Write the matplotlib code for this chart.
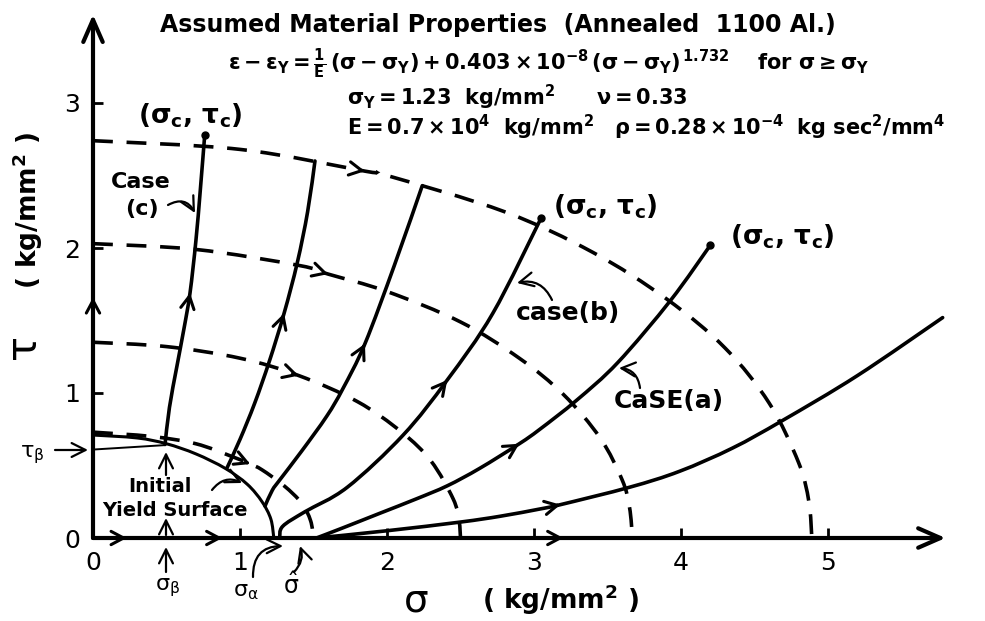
import numpy as np
import matplotlib
matplotlib.use("Agg")
import matplotlib.pyplot as plt
from matplotlib.path import Path
from matplotlib.patches import PathPatch

plt.rcParams['font.family'] = ['DejaVu Sans']
plt.rcParams['mathtext.fontset'] = 'dejavusans'
plt.rcParams['mathtext.default'] = 'regular'

# initial yield surface (sigma, tau) in kg/mm^2
yield_sig = [0.0, 0.3, 0.5, 0.7, 0.9, 1.05, 1.15, 1.21, 1.23]
yield_tau = [0.71, 0.69, 0.65, 0.58, 0.48, 0.37, 0.25, 0.13, 0.0]

# subsequent surfaces (dashed)
d1_sig = [0.0, 0.4, 0.7, 0.95, 1.07, 1.15, 1.3, 1.42, 1.48, 1.50]
d1_tau = [0.73, 0.70, 0.65, 0.56, 0.51, 0.47, 0.36, 0.24, 0.12, 0.0]
d2_sig = [0.0, 0.5, 1.0, 1.4, 1.8, 2.1, 2.3, 2.45, 2.49, 2.5]
d2_tau = [1.35, 1.32, 1.24, 1.12, 0.94, 0.73, 0.53, 0.27, 0.12, 0.0]
d3_sig = [0.0, 0.7, 1.4, 1.6, 2.0, 2.5, 2.9, 3.2, 3.45, 3.6, 3.65, 3.67]
d3_tau = [2.03, 1.99, 1.88, 1.82, 1.70, 1.49, 1.24, 0.99, 0.69, 0.40, 0.21, 0.0]
d4_sig = [0.0, 1.0, 1.85, 2.0, 2.8, 3.4, 3.9, 4.3, 4.6, 4.8, 4.87, 4.89]
d4_tau = [2.74, 2.68, 2.53, 2.50, 2.25, 1.97, 1.65, 1.31, 0.93, 0.52, 0.25, 0.0]

# loading paths (solid)
pc_sig = [0.49, 0.52, 0.57, 0.62, 0.66, 0.70, 0.73, 0.76]
pc_tau = [0.645, 0.90, 1.18, 1.45, 1.69, 2.05, 2.40, 2.78]
p2_sig = [0.91, 1.0, 1.1, 1.2, 1.30, 1.39, 1.46, 1.51]
p2_tau = [0.48, 0.68, 0.93, 1.22, 1.55, 1.90, 2.25, 2.60]
p3_sig = [1.17, 1.22, 1.27, 1.42, 1.59, 1.70, 1.85, 2.05, 2.24]
p3_tau = [0.22, 0.33, 0.40, 0.60, 0.84, 1.03, 1.34, 1.88, 2.43]
pb_sig = [1.27, 1.29, 1.44, 1.73, 2.11, 2.41, 2.72, 3.05]
pb_tau = [0.0, 0.08, 0.18, 0.35, 0.71, 1.09, 1.55, 2.21]
pa_sig = [1.52, 1.70, 1.95, 2.2, 2.41, 2.63, 2.90, 3.04, 3.29, 3.57, 3.93, 4.20]
pa_tau = [0.0, 0.07, 0.17, 0.27, 0.36, 0.48, 0.65, 0.75, 0.95, 1.21, 1.64, 2.02]
p6_sig = [1.52, 2.0, 2.50, 2.77, 3.04, 3.18, 3.65, 3.99, 4.35, 4.69, 5.2, 5.78]
p6_tau = [0.0, 0.05, 0.11, 0.15, 0.20, 0.23, 0.35, 0.46, 0.62, 0.81, 1.12, 1.52]

# tau_beta line
beta_sig = [0.0, 0.48]
beta_tau = [0.61, 0.64]

x_ticks = [0, 1, 2, 3, 4, 5]
y_ticks = [0, 1, 2, 3]
x_axis_arrows = [0.23, 0.88, 3.2]
y_axis_arrows = [1.66]

W, H = 985, 621
fig = plt.figure(figsize=(W / 100, H / 100), dpi=100)
ax = fig.add_axes([0, 0, 1, 1])
ax.set_xlim(-93 / 147, (W - 93) / 147)
ax.set_ylim(-(H - 538) / 145, 538 / 145)
for s in ax.spines.values():
    s.set_visible(False)
ax.spines['bottom'].set_position('zero')
ax.spines['left'].set_position('zero')
ax.set_xticks(x_ticks)
ax.set_yticks(y_ticks)
ax.tick_params(direction='in', length=7, width=2, labelsize=18, pad=9)


def px(x, y):
    return (x / W, 1 - y / H)


def smooth(xs, ys, **kw):
    # Catmull-Rom through the points, drawn as cubic Bezier segments
    p = np.column_stack([xs, ys]).astype(float)
    e = np.vstack([p[0], p, p[-1]])
    verts, codes = [p[0]], [Path.MOVETO]
    for i in range(len(p) - 1):
        p0, p1, p2, p3 = e[i], e[i + 1], e[i + 2], e[i + 3]
        verts += [p1 + (p2 - p0) / 6, p2 - (p3 - p1) / 6, p2]
        codes += [Path.CURVE4] * 3
    ax.add_patch(PathPatch(Path(verts, codes), fill=False, color='k', **kw))


def chevron(xs, ys, i, lw=2.2):
    dx, dy = xs[i] - xs[i - 1], ys[i] - ys[i - 1]
    n = np.hypot(dx, dy)
    ax.annotate('', xy=(xs[i], ys[i]),
                xytext=(xs[i] - 0.03 * dx / n, ys[i] - 0.03 * dy / n),
                arrowprops=dict(arrowstyle='->,head_length=0.45,head_width=0.24',
                                lw=lw, color='k', shrinkA=0, shrinkB=0,
                                mutation_scale=20))


# axes with arrows
axprops = dict(arrowstyle='->,head_length=0.8,head_width=0.35', lw=3, color='k',
               shrinkA=0, shrinkB=0, mutation_scale=20)
ax.annotate('', xy=(5.80, 0), xytext=(0, 0), arrowprops=axprops)
ax.annotate('', xy=(0, 3.61), xytext=(0, 0), arrowprops=axprops)
for s in x_axis_arrows:
    chevron([s - 0.1, s], [0, 0], 1)
for t in y_axis_arrows:
    chevron([0, 0], [t - 0.1, t], 1)

# initial yield surface and tau_beta line
smooth(yield_sig, yield_tau, lw=2.2)
ax.plot(beta_sig, beta_tau, color='k', lw=1.4)

# dashed surfaces
dash = (0, (5.5, 3.8))
for xs, ys in [(d1_sig, d1_tau), (d2_sig, d2_tau), (d3_sig, d3_tau), (d4_sig, d4_tau)]:
    smooth(xs, ys, lw=2.6, linestyle=dash)
chevron(d1_sig, d1_tau, 4)
chevron(d2_sig, d2_tau, 3)
chevron(d3_sig, d3_tau, 3)
chevron(d4_sig, d4_tau, 2)

# loading paths
paths = [(pc_sig, pc_tau, 4), (p2_sig, p2_tau, 4), (p3_sig, p3_tau, 6),
         (pb_sig, pb_tau, 5), (pa_sig, pa_tau, 6), (p6_sig, p6_tau, 5)]
for xs, ys, k in paths:
    smooth(xs, ys, lw=2.6, capstyle='round')
    chevron(xs, ys, k)
for xs, ys in [(pc_sig, pc_tau), (pb_sig, pb_tau), (pa_sig, pa_tau)]:
    ax.plot(xs[-1], ys[-1], 'o', color='k', ms=5)

# header text
fig.text(*px(498, 25), 'Assumed Material Properties  (Annealed  1100 Al.)',
         ha='center', va='center', fontsize=17, fontweight='bold')
fig.text(*px(228, 64),
         r'$\epsilon-\epsilon_Y=\frac{1}{E}\,(\sigma-\sigma_Y)+0.403\times10^{-8}\,(\sigma-\sigma_Y)^{\,1.732}$'
         r'$\quad$ for $\sigma\geq\sigma_Y$',
         ha='left', va='center', fontsize=15, fontweight='bold')
fig.text(*px(347, 97), r'$\sigma_Y=1.23\ \ kg/mm^2\qquad\nu=0.33$',
         ha='left', va='center', fontsize=15, fontweight='bold')
fig.text(*px(347, 127),
         r'$E=0.7\times10^4\ \ kg/mm^2\quad\rho=0.28\times10^{-4}\ \ kg\ sec^2/mm^4$',
         ha='left', va='center', fontsize=15, fontweight='bold')

# point labels
lab = r'$(\sigma_c,\,\tau_c)$'
for x, y in [(190, 116), (605, 207), (782, 237)]:
    fig.text(*px(x, y), lab, ha='center', va='center', fontsize=19, fontweight='bold')
fig.text(*px(141, 182), 'Case', ha='center', va='center', fontsize=16, fontweight='bold')
fig.text(*px(142, 209), '(c)', ha='center', va='center', fontsize=16, fontweight='bold')
fig.text(*px(568, 313), 'case(b)', ha='center', va='center', fontsize=18, fontweight='bold')
fig.text(*px(669, 401), 'CaSE(a)', ha='center', va='center', fontsize=18, fontweight='bold')
fig.text(*px(160, 487), 'Initial', ha='center', va='center', fontsize=14, fontweight='bold')
fig.text(*px(175, 510), 'Yield Surface', ha='center', va='center', fontsize=14, fontweight='bold')
fig.text(*px(32, 455), r'$\tau_\beta$', ha='center', va='center', fontsize=16)
fig.text(*px(168, 588), r'$\sigma_\beta$', ha='center', va='center', fontsize=16)
fig.text(*px(246, 592), r'$\sigma_\alpha$', ha='center', va='center', fontsize=16)
fig.text(*px(291, 586), r'$\hat{\sigma}$', ha='center', va='center', fontsize=17)

# axis labels
fig.text(*px(416, 600), r'$\sigma$', ha='center', va='center', fontsize=28)
fig.text(*px(561, 600), r'( kg/mm$^2$ )', ha='center', va='center', fontsize=19,
         fontweight='bold')
fig.text(*px(25, 350), r'$\tau$', ha='center', va='center', fontsize=30, rotation=90)
fig.text(*px(28, 210), r'( kg/mm$^2$ )', ha='center', va='center', fontsize=19,
         fontweight='bold', rotation=90)

# pointer arrows
pointers = [((168, 205), (195, 213), -0.5), ((552, 300), (517, 283), 0.4),
            ((640, 388), (619, 368), 0.4), ((212, 490), (242, 483), -0.4),
            ((253, 577), (283, 546), -0.5), ((294, 572), (300, 546), 0.3),
            ((55, 450), (88, 450), 0.0), ((166, 572), (166, 547), 0.0),
            ((166, 535), (166, 518), 0.0), ((166, 475), (166, 452), 0.0)]
for (x0, y0), (x1, y1), rad in pointers:
    ax.annotate('', xy=(x1, H - y1), xycoords='figure pixels',
                xytext=(x0, H - y0), textcoords='figure pixels',
                arrowprops=dict(arrowstyle='->,head_length=0.5,head_width=0.25', lw=1.6,
                                color='k', shrinkA=0, shrinkB=0, mutation_scale=20,
                                connectionstyle='arc3,rad=%g' % rad))

fig.savefig('out.png', dpi=100)
